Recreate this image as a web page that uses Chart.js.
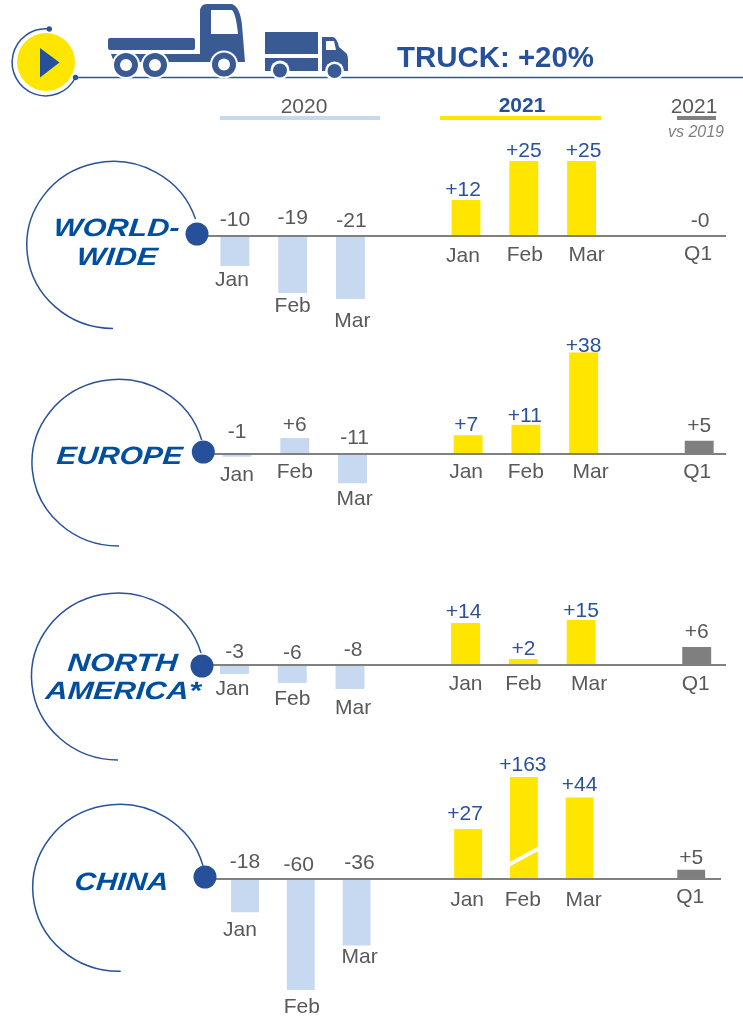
<!DOCTYPE html>
<html>
<head>
<meta charset="utf-8">
<script src="https://cdn.jsdelivr.net/npm/chart.js@4"></script>
<style>
html,body{margin:0;padding:0;background:#fff;width:743px;height:1017px;overflow:hidden}
#page{position:relative;width:743px;height:1017px}
canvas.panel{position:absolute;left:0}
svg{position:absolute;left:0;top:0;pointer-events:none}
svg text{font-family:"Liberation Sans",Arial,sans-serif}
</style>
</head>
<body>
<div id="page">
<canvas class="panel" id="c0"></canvas>
<canvas class="panel" id="c1"></canvas>
<canvas class="panel" id="c2"></canvas>
<canvas class="panel" id="c3"></canvas>
<svg id="deco" width="743" height="1017" viewBox="0 0 743 1017">
  <!-- header rule + badge -->
  <line x1="75" y1="77.5" x2="743" y2="77.5" stroke="#2f5597" stroke-width="1.5"/>
  <path d="M49 29 A33.5 33.5 0 1 0 75.5 77.5" fill="none" stroke="#2a5298" stroke-width="1.5"/>
  <circle cx="49.300" cy="29" r="2.7" fill="#2a5298"/>
  <circle cx="75.5" cy="77.5" r="2.7" fill="#2a5298"/>
  <circle cx="46" cy="62" r="29" fill="#ffe600"/>
  <path d="M40 48 L59.5 62.5 L40 77.5 Z" fill="#27509b"/>
  <!-- big truck -->
  <g fill="#3a5a94">
    <rect x="108" y="38" width="87" height="12" rx="2"/>
    <path d="M111 54 H200 V12 Q200 4 207 4 H232 Q240 7 242 25 L245 62 H114 Z"/>
  </g>
  <path d="M211 10 H232 Q236 14 238 34 H211 Z" fill="#fff"/>
  <g>
    <circle cx="126" cy="65" r="14" fill="#fff"/><circle cx="155" cy="65" r="14" fill="#fff"/><circle cx="224" cy="64.5" r="14" fill="#fff"/>
    <circle cx="126" cy="65" r="12" fill="#3a5a94"/><circle cx="155" cy="65" r="12" fill="#3a5a94"/><circle cx="224" cy="64.5" r="12" fill="#3a5a94"/>
    <circle cx="126" cy="65" r="6" fill="#fff"/><circle cx="155" cy="65" r="6" fill="#fff"/><circle cx="224" cy="64.5" r="6" fill="#fff"/>
  </g>
  <!-- small truck -->
  <g fill="#3a5a94">
    <rect x="265" y="32" width="53" height="22"/>
    <rect x="265" y="58" width="53" height="13"/>
    <path d="M322 37 H333 Q337 38 339 47 L346 53 Q348 55 348 60 V71 H322 Z"/>
  </g>
  <path d="M326 41 H334 L336 50 H326 Z" fill="#fff"/>
  <circle cx="280" cy="70" r="9.5" fill="#fff"/><circle cx="334.500" cy="71" r="9.5" fill="#fff"/>
  <circle cx="280" cy="70.500" r="7" fill="#3a5a94"/><circle cx="334.500" cy="71" r="7" fill="#3a5a94"/>
  <!-- title and column heads -->
  <text x="397" y="67" font-size="29.500" font-weight="700" fill="#27509b" textLength="197" lengthAdjust="spacingAndGlyphs">TRUCK: +20%</text>
  <text x="304" y="113" font-size="21" fill="#595959" text-anchor="middle">2020</text>
  <rect x="220" y="116" width="160" height="4" fill="#c6d9f1"/>
  <text x="522" y="111.500" font-size="21" font-weight="700" fill="#27509b" text-anchor="middle">2021</text>
  <rect x="440" y="116" width="161" height="4" fill="#ffe600"/>
  <text x="694" y="113" font-size="21" fill="#595959" text-anchor="middle">2021</text>
  <rect x="677" y="116" width="39" height="4" fill="#7f7f7f"/>
  <text x="696" y="137" font-size="16" font-style="italic" fill="#7f7f7f" text-anchor="middle">vs 2019</text>
  <!-- region arcs -->
  <path d="M195.500 219 A86.500 83.500 0 1 0 113 328.500" fill="none" stroke="#2a5298" stroke-width="1.5"/>
  <path d="M201.700 440 A86.500 83.300 0 1 0 119 546" fill="none" stroke="#2a5298" stroke-width="1.5"/>
  <path d="M201 653 A86.500 83.500 0 1 0 118 760" fill="none" stroke="#2a5298" stroke-width="1.5"/>
  <path d="M203 865.700 A86.700 83.500 0 1 0 120.700 971.300" fill="none" stroke="#2a5298" stroke-width="1.5"/>
  <circle cx="197" cy="234" r="11.500" fill="#27509b"/>
  <circle cx="203.300" cy="452" r="11.500" fill="#27509b"/>
  <circle cx="202" cy="666" r="11.500" fill="#27509b"/>
  <circle cx="205" cy="877" r="11.500" fill="#27509b"/>
  <!-- region names -->
  <g font-size="25" font-weight="700" font-style="italic" fill="#004f9f">
    <text transform="translate(53,236) skewX(-5)" textLength="126" lengthAdjust="spacingAndGlyphs">WORLD-</text>
    <text transform="translate(76,265) skewX(-5)" textLength="81" lengthAdjust="spacingAndGlyphs">WIDE</text>
    <text transform="translate(56,464) skewX(-5)" textLength="126" lengthAdjust="spacingAndGlyphs">EUROPE</text>
    <text transform="translate(67,671) skewX(-5)" textLength="110" lengthAdjust="spacingAndGlyphs">NORTH</text>
    <text transform="translate(45,699) skewX(-5)" textLength="155" lengthAdjust="spacingAndGlyphs">AMERICA*</text>
    <text transform="translate(74,890) skewX(-5)" textLength="94" lengthAdjust="spacingAndGlyphs">CHINA</text>
  </g>
</svg>
</div>
<script>
// ---- data ----
const categories = ['Jan','Feb','Mar','','Jan','Feb','Mar','','Q1'];

const worldwide2020 = [-10,-19,-21];
const worldwide2021 = [12,25,25];
const worldwideQ1   = [-0.1];

const europe2020 = [-1,6,-11];
const europe2021 = [7,11,38];
const europeQ1   = [5];

const northAmerica2020 = [-3,-6,-8];
const northAmerica2021 = [14,2,15];
const northAmericaQ1   = [6];

const china2020 = [-18,-60,-36];
const china2021 = [27,163,44];
const chinaQ1   = [5];

// ---- layout (not data) ----
const COL_BLUE='#c6d9f1', COL_YEL='#ffe600', COL_GREY='#7f7f7f';
const TXT_GREY='#595959', TXT_BLUE='#2a5298';
const panels = [
 {id:'c0',top:135,height:200,axisY:236,k:3,yMax:26,yMin:-22,left:206,width:520,lineFrom:197,lineTo:726,
  v:worldwide2020,w:worldwide2021,q:worldwideQ1,
  vn:[[0,0],[0,-2],[1,1],null,[-3,1],[0,1],[2,1],null,[3,1]],
  mn:[[-3,0],[0,-1],[2,8],null,[-3,1],[1,0],[5,0],null,[1,-1]]},
 {id:'c1',top:330,height:185,axisY:454,k:2.67,yMax:39,yMin:-12,left:208.1,width:520,lineFrom:203,lineTo:726,
  v:europe2020,w:europe2021,q:europeQ1,
  vn:[[0,-6],[0,-2],[2,0],null,[-2,0],[-1,2],[0,4],null,[0,-4]],
  mn:[[0,4],[0,-1],[2,1],null,[-2,-1],[0,-1],[7,-1],null,[-2,-1]]},
 {id:'c2',top:590,height:135,axisY:665,k:3,yMax:16,yMin:-9,left:205.6,width:520,lineFrom:202,lineTo:726,
  v:northAmerica2020,w:northAmerica2021,q:northAmericaQ1,
  vn:[[0,3],[0,4],[3,1],null,[-2,0],[0,1],[0,2],null,[0,-4]],
  mn:[[-2,1],[0,2],[3,5],null,[0,0],[0,0],[8,0],null,[-1,0]]},
 {id:'c3',top:745,height:272,axisY:879,k:1.85,yMax:102/1.85,yMin:-61,left:217.1,width:502,lineFrom:205,lineTo:721,
  v:china2020,w:china2021,q:chinaQ1,brokenIndex:5,breakFrom:14,breakTo:31,
  vn:[[0,-1],[-2,2],[3,0],null,[-3,-4],[-1,-1],[0,-2],null,[0,-1]],
  mn:[[-5,3],[1,3],[3,-3],null,[-1,2],[-1,2],[4,2],null,[-1,-1]]}
];

const fmt = v => (v>0?'+':'-')+Math.abs(Math.round(v));
const FONT = '21px "Liberation Sans", Arial, sans-serif';
const TEXT_SHIFT = 1.5;

const panelLabels = {
  id:'panelLabels',
  afterDatasetsDraw(chart,args,opts){
    const {ctx,scales:{x,y}} = chart, p = opts.panel;
    const zero = y.getPixelForValue(0);
    ctx.save();
    // broken-bar slash
    if(p.brokenIndex!==undefined){
      const c=x.getPixelForValue(p.brokenIndex), half=14.5;
      ctx.strokeStyle='#fff';ctx.lineWidth=4;ctx.beginPath();
      ctx.moveTo(c-half-1,zero-p.breakFrom);ctx.lineTo(c+half+1,zero-p.breakTo);ctx.stroke();
    }
    // zero axis
    ctx.strokeStyle='#808080';ctx.lineWidth=2;ctx.beginPath();
    ctx.moveTo(p.lineFrom,zero);ctx.lineTo(p.lineTo,zero);ctx.stroke();
    ctx.font=FONT;ctx.textAlign='center';ctx.textBaseline='middle';
    const vals=[...p.v,null,...p.w,null,...p.q];
    vals.forEach((v,i)=>{
      if(v===null) return;
      const cx=x.getPixelForValue(i);
      const endY=Math.max(y.top,y.getPixelForValue(v));
      const vy=(v>0?endY-12:zero-17)+TEXT_SHIFT;
      const my=(v<=-0.5?endY+13:zero+18)+TEXT_SHIFT;
      ctx.fillStyle=(i>=4&&i<=6)?TXT_BLUE:TXT_GREY;
      ctx.fillText(fmt(v),cx+p.vn[i][0],vy+p.vn[i][1]);
      ctx.fillStyle=TXT_GREY;
      ctx.fillText(categories[i],cx+p.mn[i][0],my+p.mn[i][1]);
    });
    ctx.restore();
  }
};

panels.forEach(p=>{
  const cv=document.getElementById(p.id);
  cv.style.top=p.top+'px';cv.style.width='743px';cv.style.height=p.height+'px';
  cv.width=743;cv.height=p.height;
  const areaTop=p.axisY-p.yMax*p.k, areaBottom=p.axisY-p.yMin*p.k;
  const series=(arr,start)=>categories.map((_,i)=>(i>=start&&i<start+arr.length)?arr[i-start]:null);
  new Chart(cv.getContext('2d'),{
    type:'bar',
    data:{labels:categories,datasets:[
      {label:'2020',data:series(p.v,0),backgroundColor:COL_BLUE},
      {label:'2021',data:series(p.w,4),backgroundColor:COL_YEL},
      {label:'2021 vs 2019',data:series(p.q,8),backgroundColor:COL_GREY}
    ]},
    options:{
      responsive:false,animation:false,
      grouped:false,
      barPercentage:0.5,categoryPercentage:1,
      layout:{padding:{left:p.left,right:743-p.left-p.width,top:areaTop-p.top,bottom:p.top+p.height-areaBottom}},
      scales:{
        x:{display:false,grid:{display:false}},
        y:{display:false,min:p.yMin,max:p.yMax,grid:{display:false}}
      },
      plugins:{legend:{display:false},tooltip:{enabled:false},title:{display:false},panelLabels:{panel:p}}
    },
    plugins:[panelLabels]
  });
});
</script>
</body>
</html>
